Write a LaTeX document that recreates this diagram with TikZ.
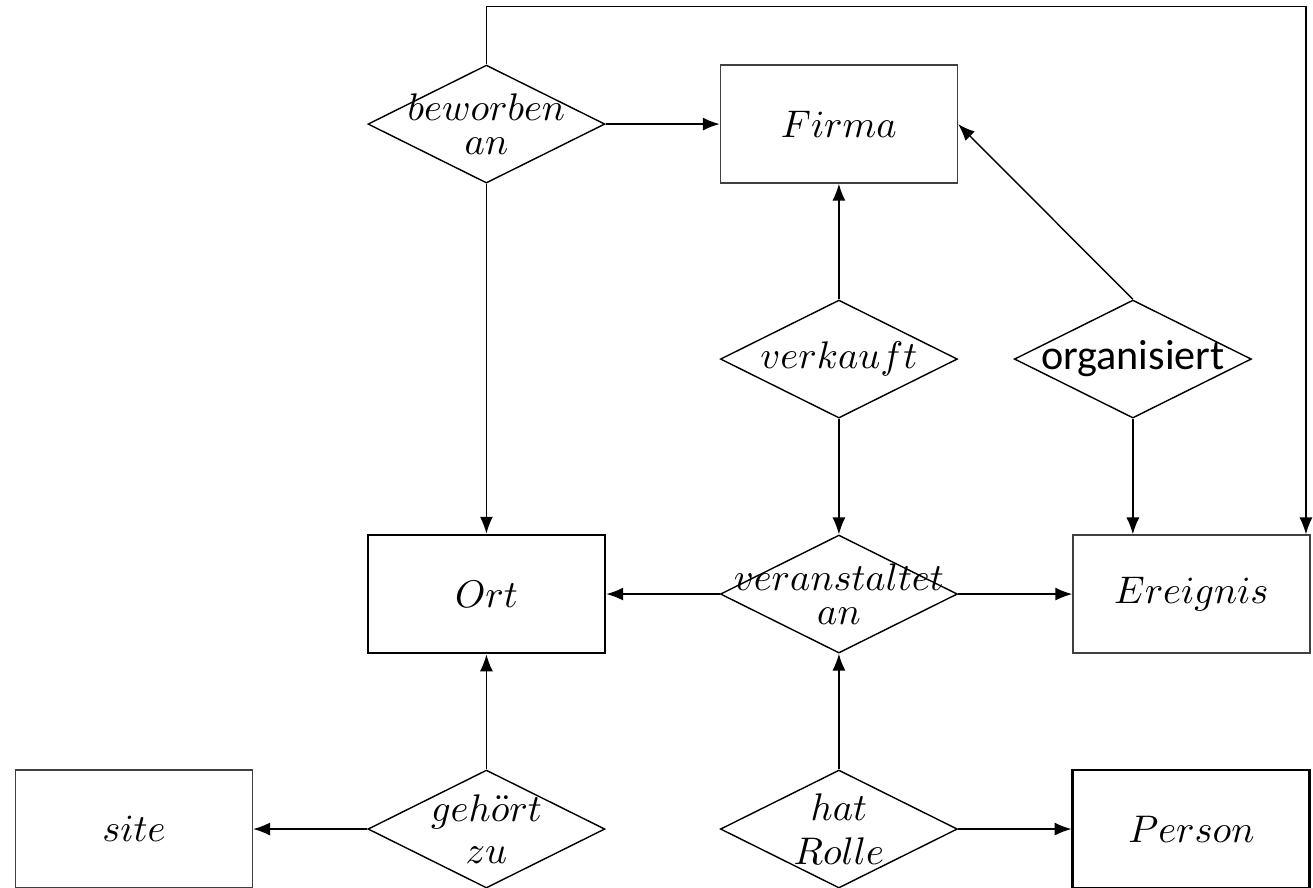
\documentclass[tikz,border=0pt]{standalone}
\usepackage{fontspec}
\newfontfamily\carlito{Carlito}
\usetikzlibrary{shapes.geometric, arrows.meta}

\tikzset{
	entity/.style = {rectangle, draw = black!75, minimum width = 2.37cm, minimum height = 1.18cm, inner sep = 0pt, font = \fontsize{10.95}{13}\selectfont},
	strong/.style = {draw = black, line width = 0.8pt},
	relation/.style = {diamond, draw, minimum width = 2.37cm, minimum height = 1.18cm, inner sep = 0pt},
	rellabel/.style = {align = center, inner sep = 0pt, font = {\fontsize{10.95}{0}\selectfont\lineskip = 5pt}},
	sanslabel/.style = {inner sep = 0pt, font = {\fontsize{12}{14}\selectfont\carlito}}
}

\begin{document}
\begin{tikzpicture}[> = {Latex[length = 4.8pt, width = 3.7pt]}]

	% Definition
	
	\def\W{3.525}	% column distance
	\def\H{2.35}	% row distance
	
	\useasboundingbox (-0.38 * \W, -0.247 * \H) rectangle (3.345 * \W, 3.528 * \H);

	% Entities
	
	\node [entity] (firma) at (2 * \W, 3 * \H) {$Firma$};
	\node [entity, strong] (ort) at (\W, \H) {$Ort$};
	\node [entity] (ereignis) at (3 * \W, \H) {$Ereignis$};
	\node [entity] (site) at (0, 0) {$site$};
	\node [entity, strong] (person) at (3 * \W, 0) {$Person$};
	
	% Relationships
	
	\node [relation, label = {[rellabel]center:{$beworben$\\$an$}}] (beworben) at (\W, 3 * \H) {};
	\node [relation, label = {[rellabel]center:{$verkauft$}}] (verkauft) at (2 * \W, 2 * \H) {};
	\node [relation, label = {[sanslabel]center:organisiert}] (organisiert) at (2.834 * \W, 2 * \H) {};
	\node [relation, label = {[rellabel]center:{$veranstaltet$\\$an$}}] (veranstaltet) at (2 * \W, \H) {};
	\node [relation, label = {[rellabel]center:{$geh\ddot{o}rt$\\$zu$}}] (gehoert) at (\W, 0) {};
	\node [relation, label = {[rellabel]center:{$hat$\\$Rolle$}}] (hatrolle) at (2 * \W, 0) {};
	
	\coordinate (corner) at (3.325 * \W, 3.5 * \H);
	
	% Connections
	
	\begin{scope}[->]
	
		\draw (beworben) -- (firma);
		\draw (beworben) -- (ort);
		\draw (beworben.north) -- (beworben.north |- corner) -- (corner) -- (corner |- ereignis.north);
		\draw (verkauft) -- (firma);
		\draw (verkauft) -- (veranstaltet);
		\draw (organisiert.north) -- (firma.east);
		\draw (organisiert.south) -- (organisiert.south |- ereignis.north);
		\draw (veranstaltet) -- (ort);
		\draw (veranstaltet) -- (ereignis);
		\draw (gehoert) -- (ort);
		\draw (gehoert) -- (site);
		\draw (hatrolle) -- (veranstaltet);
		\draw (hatrolle) -- (person);
	
	\end{scope}

\end{tikzpicture}
\end{document}
